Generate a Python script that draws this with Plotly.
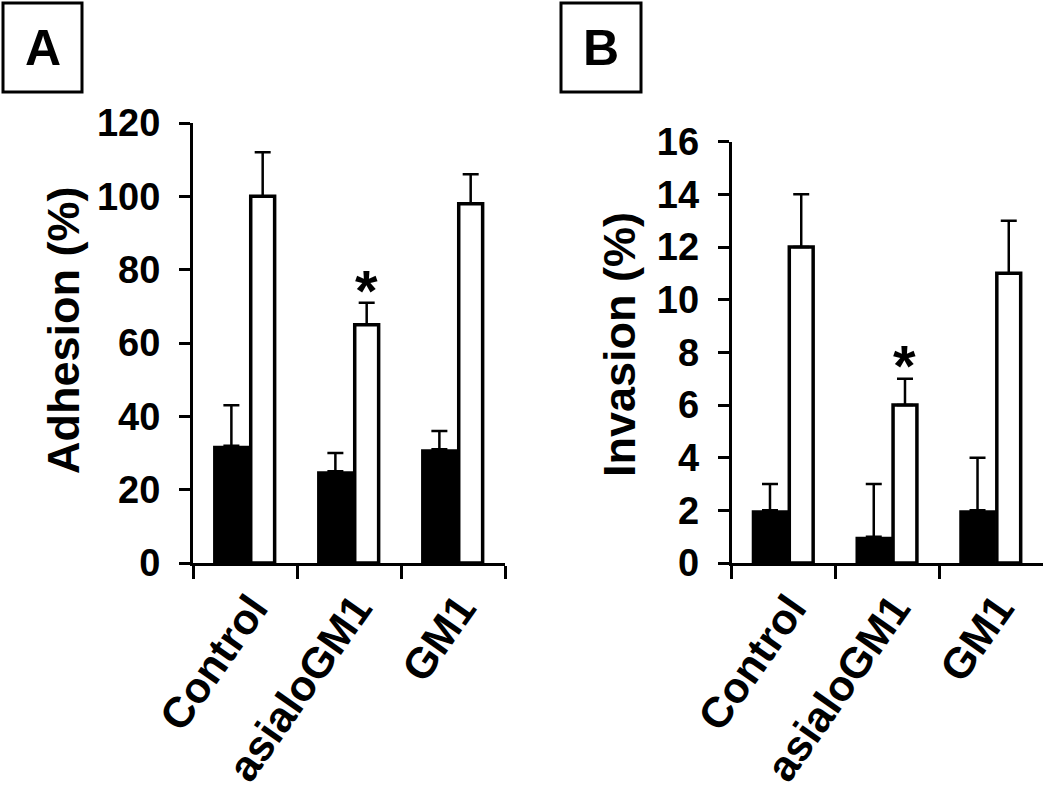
import plotly.graph_objects as go

categories = ["Control", "asialoGM1", "GM1"]

# Panel A: Adhesion (%)
adh_black = [32, 25, 31]
adh_black_err = [11, 5, 5]
adh_white = [100, 65, 98]
adh_white_err = [12, 6, 8]

# Panel B: Invasion (%)
inv_black = [2, 1, 2]
inv_black_err = [1, 2, 2]
inv_white = [12, 6, 11]
inv_white_err = [2, 1, 2]

FONT = "Liberation Sans, Arial, Helvetica, sans-serif"
BLACK_OFF, BLACK_W = -0.307, 0.352
WHITE_OFF, WHITE_W = 0.055, 0.23

W, H = 1050, 793


def px(x):
    return x / W


def py(y):
    return (H - y) / H


fig = go.Figure()


def add_pair(black, black_err, white, white_err, xa, ya):
    fig.add_trace(go.Bar(
        x=categories, y=black, xaxis=xa, yaxis=ya,
        offset=BLACK_OFF, width=BLACK_W,
        marker=dict(color="black", line=dict(color="black", width=0)),
        error_y=dict(type="data", symmetric=False, array=black_err,
                     arrayminus=[0] * len(black), color="black",
                     thickness=2.5, width=8),
        showlegend=False,
    ))
    fig.add_trace(go.Bar(
        x=categories, y=white, xaxis=xa, yaxis=ya,
        offset=WHITE_OFF, width=WHITE_W,
        marker=dict(color="white", line=dict(color="black", width=3.5)),
        error_y=dict(type="data", symmetric=False, array=white_err,
                     arrayminus=[0] * len(white), color="black",
                     thickness=2.5, width=8),
        showlegend=False,
    ))


add_pair(adh_black, adh_black_err, adh_white, adh_white_err, "x", "y")
add_pair(inv_black, inv_black_err, inv_white, inv_white_err, "x2", "y2")

xcommon = dict(
    type="category", range=[-0.5, 2.5], showline=True, linecolor="black",
    linewidth=3, ticks="outside", tickson="boundaries", ticklen=13,
    tickwidth=3, tickcolor="black", tickangle=-55, automargin=False,
    ticklabelshift=7,
    tickfont=dict(family=FONT, size=43, color="black", weight="bold"),
    showgrid=False, zeroline=False,
)
ycommon = dict(
    showline=True, linecolor="black", linewidth=3, ticks="outside",
    ticklen=11, tickwidth=3, tickcolor="black", ticklabelstandoff=11,
    automargin=False,
    tickfont=dict(family=FONT, size=38, color="black", weight="bold"),
    showgrid=False, zeroline=False,
)

fig.update_layout(
    width=W, height=H,
    margin=dict(l=0, r=0, t=0, b=0, autoexpand=False),
    paper_bgcolor="white", plot_bgcolor="white",
    barmode="overlay",
    xaxis=dict(domain=[px(193), px(505)], anchor="y", **xcommon),
    xaxis2=dict(domain=[px(731.7), px(1043)], anchor="y2", **xcommon),
    yaxis=dict(domain=[py(563), py(123)], anchor="x",
               range=[0, 120], tickvals=[0, 20, 40, 60, 80, 100, 120],
               **ycommon),
    yaxis2=dict(domain=[py(563), py(141.7)], anchor="x2",
                range=[0, 16], tickvals=[0, 2, 4, 6, 8, 10, 12, 14, 16],
                **ycommon),
)

# Y-axis titles
for text, cx, cy in [("Adhesion (%)", 63, 330), ("Invasion (%)", 620, 345)]:
    fig.add_annotation(text=text, xref="paper", yref="paper",
                       x=px(cx), y=py(cy), textangle=-90,
                       xanchor="center", yanchor="middle", showarrow=False,
                       font=dict(family=FONT, size=45, color="black", weight="bold"))

# Panel label boxes
for label, x0, x1 in [("A", 3, 82), ("B", 561, 641)]:
    fig.add_shape(type="rect", xref="paper", yref="paper",
                  x0=px(x0), x1=px(x1), y0=py(92), y1=py(3),
                  line=dict(color="black", width=3), fillcolor="white")
    fig.add_annotation(text=label, xref="paper", yref="paper",
                       x=px((x0 + x1) / 2), y=py(47.5),
                       xanchor="center", yanchor="middle", showarrow=False,
                       font=dict(family=FONT, size=50, color="black", weight="bold"))

# Significance asterisks above asialoGM1 white bars
star_x = 1 + WHITE_OFF + WHITE_W / 2
fig.add_annotation(text="*", xref="x", yref="y",
                   x=star_x, y=adh_white[1] + adh_white_err[1],
                   xanchor="center", yanchor="bottom", yshift=-22, showarrow=False,
                   font=dict(family=FONT, size=58, color="black", weight="bold"))
fig.add_annotation(text="*", xref="x2", yref="y2",
                   x=star_x, y=inv_white[1] + inv_white_err[1],
                   xanchor="center", yanchor="bottom", yshift=-21, showarrow=False,
                   font=dict(family=FONT, size=58, color="black", weight="bold"))

# Remove the default 8px page margin so the figure fills the window exactly.
fig.write_html("out.html", config={"displayModeBar": False},
               post_script="document.body.style.margin='0';")
